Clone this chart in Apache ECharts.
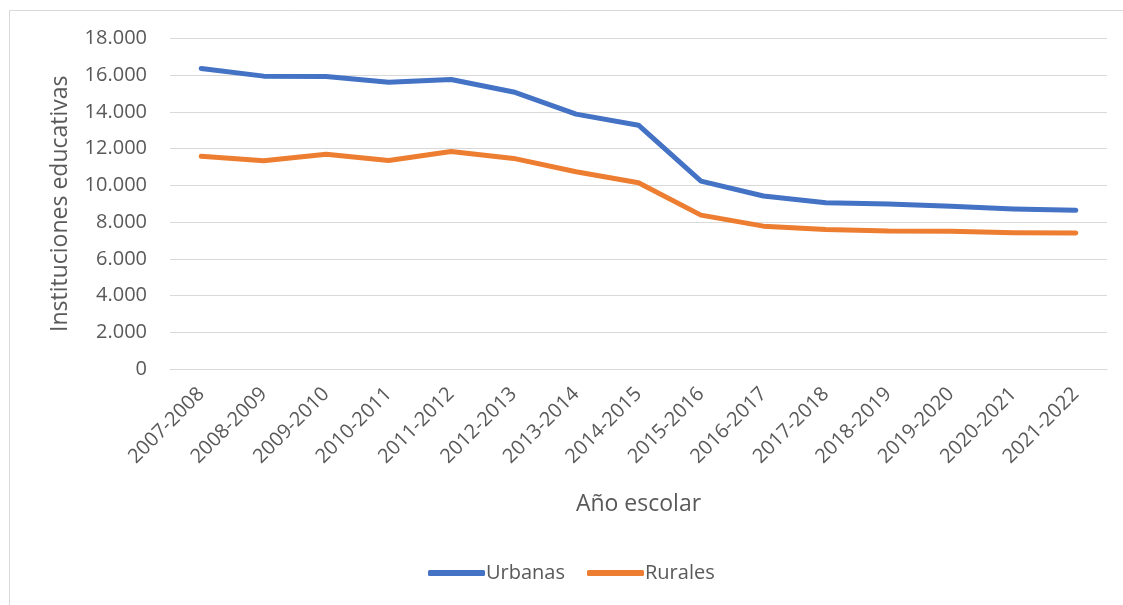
<!DOCTYPE html>
<html>
<head>
<meta charset="utf-8">
<script src="https://cdn.jsdelivr.net/npm/echarts@6/dist/echarts.min.js"></script>
<style>
  html, body { margin: 0; padding: 0; background: #ffffff; }
  #chart { width: 1123px; height: 605px; }
</style>
</head>
<body>
<div id="chart"></div>
<script>
// School years on the category axis
const years = [
  '2007-2008', '2008-2009', '2009-2010', '2010-2011', '2011-2012',
  '2012-2013', '2013-2014', '2014-2015', '2015-2016', '2016-2017',
  '2017-2018', '2018-2019', '2019-2020', '2020-2021', '2021-2022'
];

// Number of educational institutions per year
const urbanas = [16370, 15950, 15930, 15620, 15770, 15090, 13880, 13280, 10230, 9420, 9050, 8980, 8870, 8720, 8640];
const rurales = [11590, 11340, 11690, 11360, 11850, 11470, 10740, 10140, 8380, 7780, 7600, 7510, 7500, 7420, 7410];

// Value axis range
const yMin = 0;
const yMax = 18000;
const yStep = 2000;

const FONT = 'Open Sans';
const TEXT = '#595959';

// Thousands separator with a dot
function fmt(v) {
  return String(v).replace(/\B(?=(\d{3})+(?!\d))/g, '.');
}

const chart = echarts.init(document.getElementById('chart'), null, { renderer: 'canvas' });

chart.setOption({
  animation: false,
  backgroundColor: '#ffffff',
  textStyle: { fontFamily: FONT, color: TEXT },
  graphic: [
    {
      type: 'rect',
      shape: { x: 9.5, y: 10.5, width: 1200, height: 700 },
      style: { fill: 'none', stroke: '#d9d9d9', lineWidth: 1 },
      silent: true
    }
  ],
  grid: { left: 170, right: 16, top: 38.5, bottom: 236, containLabel: false },
  legend: {
    bottom: 17,
    left: 423,
    itemWidth: 57,
    itemHeight: 6,
    itemGap: 22,
    icon: 'roundRect',
    textStyle: { fontFamily: FONT, fontSize: 20, color: TEXT, padding: [0, 0, 0, -4] },
    data: ['Urbanas', 'Rurales']
  },
  xAxis: {
    type: 'category',
    data: years,
    boundaryGap: true,
    name: 'Año escolar',
    nameLocation: 'middle',
    nameGap: 124,
    nameTextStyle: { fontFamily: FONT, fontSize: 23, color: TEXT },
    axisLine: { show: true, lineStyle: { color: '#d9d9d9', width: 1 } },
    axisTick: { show: false },
    axisLabel: { rotate: 45, fontFamily: FONT, fontSize: 20, color: TEXT, margin: 22 }
  },
  yAxis: {
    type: 'value',
    min: yMin,
    max: yMax,
    interval: yStep,
    name: 'Instituciones educativas',
    nameLocation: 'middle',
    nameGap: 98,
    nameTextStyle: { fontFamily: FONT, fontSize: 23, color: TEXT },
    axisLine: { show: false },
    axisTick: { show: false },
    axisLabel: { fontFamily: FONT, fontSize: 20, color: TEXT, margin: 23, formatter: fmt },
    splitLine: { lineStyle: { color: '#d9d9d9', width: 1 } }
  },
  series: [
    {
      name: 'Urbanas',
      type: 'line',
      data: urbanas,
      symbol: 'none',
      lineStyle: { color: '#4472C4', width: 5, cap: 'round', join: 'round' },
      itemStyle: { color: '#4472C4' }
    },
    {
      name: 'Rurales',
      type: 'line',
      data: rurales,
      symbol: 'none',
      lineStyle: { color: '#ED7D31', width: 5, cap: 'round', join: 'round' },
      itemStyle: { color: '#ED7D31' }
    }
  ]
});
</script>
</body>
</html>
